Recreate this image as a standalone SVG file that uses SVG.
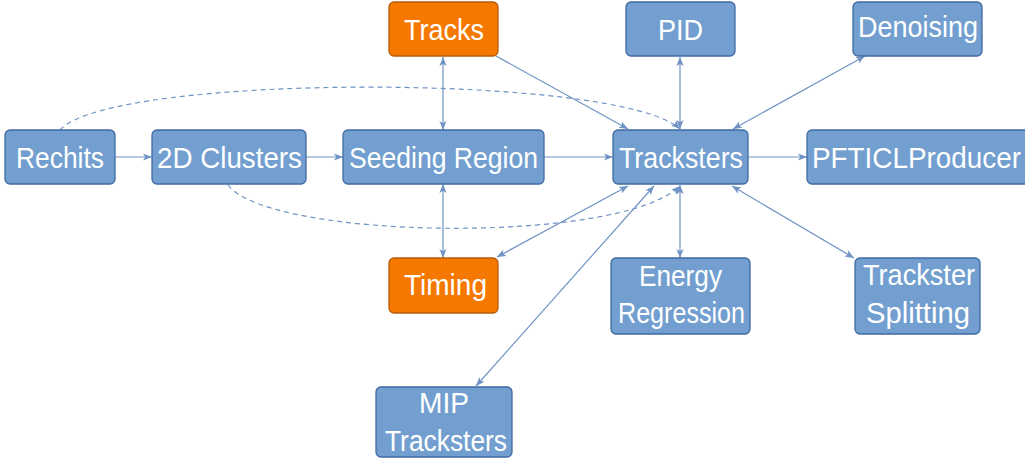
<svg xmlns="http://www.w3.org/2000/svg" width="1025" height="461" viewBox="0 0 1025 461">
<style>
.b rect{fill:#729fcf;stroke:#3f6aa3;stroke-width:1.3}
.o rect{fill:#f57900;stroke:#b85c0a;stroke-width:1.3}
text{font-family:"Liberation Sans",Arial,sans-serif;font-size:29px;fill:#ffffff;text-anchor:middle}
#connectors path,#connectors line{stroke:#6f93c4;stroke-width:1.2;fill:none}
#connectors .d{stroke-dasharray:5 4}
</style>
<defs>
<marker id="ah" viewBox="0 0 10 10" refX="10" refY="5" markerWidth="9" markerHeight="9" markerUnits="userSpaceOnUse" orient="auto-start-reverse">
<path d="M0,1 L10,5 L0,9 L2.5,5 z" fill="#6f93c4"/>
</marker>
</defs>
<g id="connectors">
<line x1="115" y1="157" x2="152" y2="157" marker-end="url(#ah)"/>
<line x1="306" y1="157" x2="343" y2="157" marker-end="url(#ah)"/>
<line x1="544" y1="157" x2="613" y2="157" marker-end="url(#ah)"/>
<line x1="748" y1="157" x2="807" y2="157" marker-end="url(#ah)"/>
<line x1="443" y1="57" x2="443" y2="130" marker-start="url(#ah)" marker-end="url(#ah)"/>
<line x1="443" y1="184" x2="443" y2="258" marker-start="url(#ah)" marker-end="url(#ah)"/>
<line x1="496" y1="56" x2="628" y2="129" marker-end="url(#ah)"/>
<line x1="680" y1="57" x2="680" y2="129" marker-start="url(#ah)" marker-end="url(#ah)"/>
<line x1="733" y1="129" x2="865" y2="56" marker-start="url(#ah)" marker-end="url(#ah)"/>
<line x1="628" y1="186" x2="497" y2="257" marker-start="url(#ah)" marker-end="url(#ah)"/>
<line x1="654" y1="186" x2="476" y2="386" marker-start="url(#ah)" marker-end="url(#ah)"/>
<line x1="680" y1="185" x2="680" y2="258" marker-start="url(#ah)" marker-end="url(#ah)"/>
<line x1="732" y1="186" x2="854" y2="258" marker-start="url(#ah)" marker-end="url(#ah)"/>
<path class="d" d="M60,130 C110,73 620,73 680,129" marker-end="url(#ah)"/>
<path class="d" d="M228,185 C270,240 620,245 680,186" marker-end="url(#ah)"/>
</g>
<g id="rechits" class="b"><rect x="5" y="130" width="110" height="54" rx="5"/><text x="60" y="168" textLength="88" lengthAdjust="spacingAndGlyphs">Rechits</text></g>
<g id="clusters2d" class="b"><rect x="152" y="130" width="154" height="54" rx="5"/><text x="229.5" y="168" textLength="145" lengthAdjust="spacingAndGlyphs">2D Clusters</text></g>
<g id="seeding" class="b"><rect x="343" y="130" width="201" height="54" rx="5"/><text x="443.5" y="168" textLength="189" lengthAdjust="spacingAndGlyphs">Seeding Region</text></g>
<g id="tracksters" class="b"><rect x="613" y="130" width="135" height="54" rx="5"/><text x="681" y="168" textLength="124" lengthAdjust="spacingAndGlyphs">Tracksters</text></g>
<g id="pfticl" class="b"><rect x="807" y="130" width="230" height="54" rx="5"/><text x="916.5" y="168" textLength="209" lengthAdjust="spacingAndGlyphs">PFTICLProducer</text></g>
<g id="tracks" class="o"><rect x="389" y="2" width="109" height="54" rx="5"/><text x="444" y="40" textLength="80" lengthAdjust="spacingAndGlyphs">Tracks</text></g>
<g id="pid" class="b"><rect x="626" y="2" width="109" height="54" rx="5"/><text x="680.5" y="40" textLength="45" lengthAdjust="spacingAndGlyphs">PID</text></g>
<g id="denoising" class="b"><rect x="853" y="2" width="129" height="54" rx="5"/><text x="918" y="37" textLength="120" lengthAdjust="spacingAndGlyphs">Denoising</text></g>
<g id="timing" class="o"><rect x="389" y="258" width="109" height="55" rx="5"/><text x="445.5" y="295" textLength="83" lengthAdjust="spacingAndGlyphs">Timing</text></g>
<g id="energy" class="b"><rect x="611" y="258" width="139" height="76" rx="5"/><text x="680.5" y="286" textLength="83" lengthAdjust="spacingAndGlyphs">Energy</text><text x="681.5" y="323" textLength="127" lengthAdjust="spacingAndGlyphs">Regression</text></g>
<g id="splitting" class="b"><rect x="855" y="258" width="125" height="76" rx="5"/><text x="919" y="285" textLength="112" lengthAdjust="spacingAndGlyphs">Trackster</text><text x="918" y="323" textLength="104" lengthAdjust="spacingAndGlyphs">Splitting</text></g>
<g id="mip" class="b"><rect x="376" y="387" width="136" height="70" rx="5"/><text x="444" y="413" textLength="50" lengthAdjust="spacingAndGlyphs">MIP</text><text x="446" y="451" textLength="122" lengthAdjust="spacingAndGlyphs">Tracksters</text></g>
</svg>
